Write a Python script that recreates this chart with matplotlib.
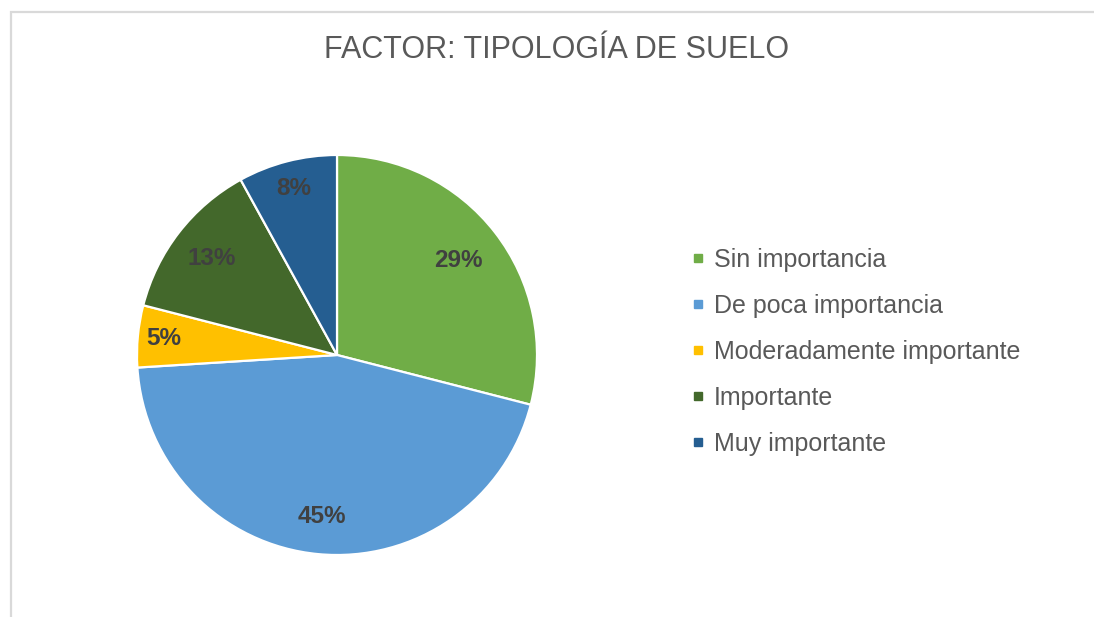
import numpy as np
import matplotlib.pyplot as plt
from matplotlib.lines import Line2D
from matplotlib.patches import Rectangle

plt.rcParams['font.family'] = ['Liberation Sans', 'DejaVu Sans']

title = "FACTOR: TIPOLOGÍA DE SUELO"
categories = ["Sin importancia", "De poca importancia", "Moderadamente importante",
              "Importante", "Muy importante"]
values = [29, 45, 5, 13, 8]
colors = ["#70AD47", "#5B9BD5", "#FFC000", "#43682B", "#255E91"]

# Excel "best fit" puts the labels at slightly different radii
label_radius = [0.77, 0.81, 0.87, 0.79, 0.86]

W, H = 1094, 617
fig = plt.figure(figsize=(W / 100, H / 100), dpi=100)

# light chart-area border (only top and left are visible in the crop)
fig.add_artist(Rectangle((10.5 / W, -0.2), 1.2, 1.2 - 12.5 / H,
                         transform=fig.transFigure, fill=False,
                         edgecolor="#D9D9D9", linewidth=1.6))

fig.text(557 / W, 1 - 50 / H, title, ha="center", va="center",
         fontsize=22, color="#595959")

ax = fig.add_axes([137 / W, 62 / H, 400 / W, 400 / H])
wedges, texts, autotexts = ax.pie(
    values, colors=colors, startangle=90, counterclock=False,
    autopct="%1.0f%%", pctdistance=0.8,
    wedgeprops=dict(edgecolor="white", linewidth=1.6),
    textprops=dict(fontsize=17.5, fontweight="bold", color="#404040"))
for w, t, r in zip(wedges, autotexts, label_radius):
    ang = np.deg2rad((w.theta1 + w.theta2) / 2)
    t.set_position((r * np.cos(ang), r * np.sin(ang)))
ax.set_xlim(-1, 1)
ax.set_ylim(-1, 1)
ax.set_aspect("equal")
ax.axis("off")

handles = [Line2D([], [], marker="s", linestyle="none", markersize=5.5,
                  markerfacecolor=c, markeredgecolor=c) for c in colors]
fig.legend(handles, categories, loc="center left",
           bbox_to_anchor=(690 / W, 1 - 351.5 / H), frameon=False,
           fontsize=18, labelcolor="#595959", handlelength=0.6,
           handletextpad=0.35, labelspacing=0.88, borderpad=0, borderaxespad=0)

plt.savefig("out.png", dpi=100)
